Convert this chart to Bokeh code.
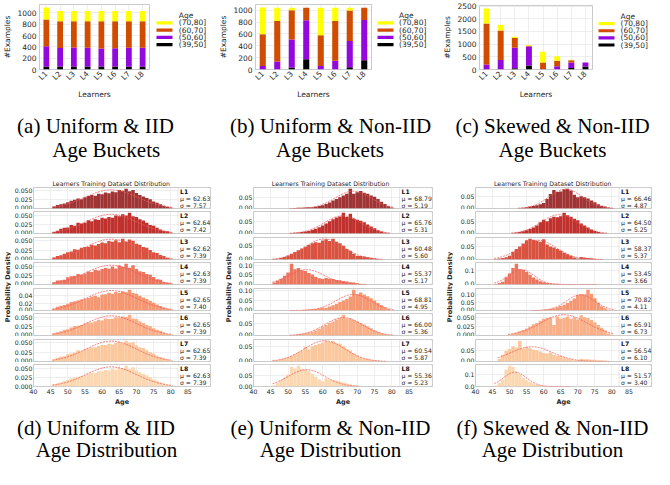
import numpy as np
from bokeh.plotting import figure
from bokeh.models import (FactorRange, Range1d, Label, BoxAnnotation,
                          FixedTicker, ColumnDataSource, PrintfTickFormatter)
from bokeh.layouts import row, column
from bokeh.embed import file_html
from bokeh.resources import INLINE
from bokeh.core.properties import value

# ---------------- data: bar charts (#examples per age bucket) ----------------
learners = ["L1", "L2", "L3", "L4", "L5", "L6", "L7", "L8"]
age_buckets = ["(39,50]", "(50,60]", "(60,70]", "(70,80]"]
bucket_colors = ["#000000", "#9309dd", "#d04c00", "#ffff00"]

uni_iid_39_50 = [55, 55, 55, 55, 55, 55, 50, 55]
uni_iid_50_60 = [356, 325, 335, 330, 315, 320, 335, 330]
uni_iid_60_70 = [474, 474, 464, 469, 484, 479, 469, 469]
uni_iid_70_80 = [209, 182, 182, 182, 182, 182, 182, 182]

uni_nid_39_50 = [0, 0, 35, 175, 0, 0, 40, 155]
uni_nid_50_60 = [60, 136, 470, 658, 60, 146, 440, 680]
uni_nid_60_70 = [536, 682, 495, 212, 520, 672, 515, 210]
uni_nid_70_80 = [450, 227, 45, 0, 465, 227, 50, 0]

skw_nid_39_50 = [0, 0, 45, 160, 0, 0, 55, 115]
skw_nid_50_60 = [200, 370, 815, 745, 8, 128, 225, 165]
skw_nid_60_70 = [1610, 1165, 385, 35, 272, 220, 80, 0]
skw_nid_70_80 = [590, 230, 45, 25, 420, 175, 25, 0]

bar_yticks_uni = [0, 200, 400, 600, 800, 1000]
bar_yticks_skw = [0, 500, 1000, 1500, 2000, 2500]

# ---------------- data: age histograms (density per 1-year bin) ----------------
ages = [46, 47, 48, 49, 50, 51, 52, 53, 54, 55, 56, 57, 58, 59, 60, 61, 62, 63,
        64, 65, 66, 67, 68, 69, 70, 71, 72, 73, 74, 75, 76, 77, 78, 79, 80]
hist_xticks = [40, 45, 50, 55, 60, 65, 70, 75, 80, 85]

iid_l1 = [.006, .010, .012, .014, .018, .022, .025, .028, .026, .032, .035, .038, .036, .042, .040, .045, .043, .048, .046, .052, .050, .056, .049, .052, .044, .038, .034, .030, .026, .020, .016, .012, .008, .005, .003]
iid_l2 = [.004, .008, .013, .016, .017, .024, .022, .030, .028, .030, .037, .034, .040, .038, .044, .042, .046, .044, .050, .048, .054, .050, .058, .048, .046, .040, .036, .030, .024, .022, .016, .011, .008, .006, .003]
iid_l3 = [.005, .009, .011, .015, .019, .021, .027, .026, .031, .033, .034, .039, .037, .041, .045, .043, .049, .047, .051, .046, .055, .048, .053, .050, .042, .039, .033, .031, .025, .019, .017, .012, .009, .004, .002]
iid_l4 = [.006, .011, .012, .013, .020, .023, .024, .029, .027, .031, .036, .035, .041, .039, .043, .046, .044, .050, .045, .053, .049, .058, .047, .054, .043, .037, .035, .029, .027, .021, .015, .013, .007, .005, .003]
iid_l5 = [.005, .010, .013, .015, .018, .023, .025, .027, .030, .032, .034, .038, .040, .036, .043, .044, .048, .045, .050, .047, .052, .049, .056, .047, .045, .040, .035, .031, .026, .021, .016, .012, .008, .005, .003]
iid_l6 = [.006, .009, .012, .016, .017, .022, .026, .027, .029, .033, .036, .036, .039, .043, .041, .047, .045, .046, .050, .049, .052, .051, .057, .047, .045, .039, .034, .029, .026, .020, .016, .013, .008, .004, .003]
iid_l7 = [.005, .010, .013, .014, .019, .021, .024, .030, .027, .033, .035, .037, .038, .041, .044, .044, .047, .045, .049, .052, .048, .055, .050, .051, .043, .038, .036, .030, .025, .021, .015, .012, .009, .005, .002]
iid_l8 = [.006, .009, .012, .015, .018, .023, .025, .027, .029, .031, .036, .038, .037, .042, .042, .045, .044, .049, .046, .051, .050, .057, .048, .053, .044, .039, .034, .031, .026, .019, .016, .012, .008, .005, .003]

nid_l1 = [0, 0, 0, 0, 0, .001, .002, .003, .003, .004, .005, .006, .008, .011, .014, .020, .027, .035, .042, .050, .058, .066, .088, .066, .072, .078, .070, .066, .058, .052, .042, .030, .020, .010, .004]
nid_l2 = [0, 0, 0, 0, 0, .002, .003, .004, .006, .008, .011, .016, .020, .026, .034, .042, .052, .060, .068, .072, .088, .070, .084, .064, .058, .054, .048, .038, .030, .022, .014, .008, .004, .002, 0]
nid_l3 = [.002, .003, .005, .009, .014, .020, .026, .032, .038, .044, .050, .056, .060, .058, .066, .070, .064, .072, .062, .056, .048, .036, .030, .020, .012, .012, .010, .008, .006, .004, .002, .001, 0, 0, 0]
nid_l4 = [.010, .020, .030, .045, .062, .108, .080, .086, .074, .070, .060, .052, .040, .032, .028, .034, .030, .028, .024, .022, .018, .016, .012, .010, .006, .003, .002, 0, 0, 0, 0, 0, 0, 0, 0]
nid_l5 = [0, 0, 0, 0, 0, .001, .002, .003, .003, .004, .005, .006, .008, .011, .014, .014, .020, .026, .034, .042, .050, .058, .070, .104, .082, .090, .080, .072, .062, .050, .038, .026, .016, .008, .003]
nid_l6 = [0, 0, 0, 0, 0, .002, .003, .005, .007, .009, .012, .016, .021, .028, .037, .044, .052, .058, .066, .072, .086, .070, .070, .064, .058, .052, .046, .038, .030, .022, .015, .009, .005, .002, .001]
nid_l7 = [.003, .004, .007, .010, .014, .018, .024, .030, .036, .048, .040, .050, .054, .058, .062, .068, .064, .066, .060, .058, .050, .042, .036, .026, .020, .014, .010, .008, .006, .004, .003, .002, .001, 0, 0]
nid_l8 = [.006, .016, .030, .042, .054, .090, .082, .094, .080, .076, .070, .058, .044, .032, .024, .036, .032, .030, .026, .024, .018, .014, .010, .006, .004, 0, 0, 0, 0, 0, 0, 0, 0, 0, 0]

skw_l1 = [0, 0, 0, 0, 0, 0, 0, .001, .003, .005, .008, .011, .014, .018, .023, .040, .062, .078, .070, .072, .082, .084, .076, .058, .048, .052, .048, .042, .034, .026, .018, .012, .008, .004, .002]
skw_l2 = [0, 0, 0, 0, 0, .002, .004, .006, .009, .013, .018, .024, .032, .046, .056, .050, .062, .068, .066, .070, .084, .074, .068, .060, .054, .040, .032, .024, .016, .010, .006, .003, .002, 0, 0]
skw_l3 = [.002, .004, .006, .009, .014, .030, .040, .050, .062, .074, .080, .076, .072, .068, .078, .058, .050, .046, .040, .034, .026, .020, .014, .008, .004, .010, .008, .006, .005, .003, .002, .001, 0, 0, 0]
skw_l4 = [.004, .010, .020, .052, .080, .120, .150, .110, .104, .090, .070, .050, .036, .024, .016, .010, .008, .006, .005, .003, .002, .001, .001, 0, 0, .002, .002, .002, .002, .002, 0, 0, 0, 0, 0]
skw_l5 = [0, 0, 0, 0, 0, 0, 0, 0, 0, 0, 0, .001, .002, .003, .004, .006, .010, .014, .020, .028, .036, .046, .060, .074, .096, .100, .098, .128, .104, .076, .048, .026, .014, .004, .002]
skw_l6 = [0, 0, 0, 0, .003, .005, .008, .012, .016, .020, .026, .032, .036, .042, .048, .050, .052, .030, .054, .048, .050, .054, .048, .052, .046, .058, .052, .050, .044, .038, .030, .022, .014, .006, .003]
skw_l7 = [0, .012, .030, .046, .055, .068, .062, .092, .058, .064, .060, .052, .050, .044, .038, .036, .040, .030, .026, .024, .018, .012, .010, .006, .006, .012, .010, .010, .008, .008, .006, .005, .004, .002, 0]
skw_l8 = [.010, .030, .060, .140, .170, .160, .120, .100, .070, .050, .036, .024, .014, .010, .006, .004, .003, .002, .001, .001, .001, .001, 0, 0, 0, 0, 0, 0, 0, 0, 0, 0, 0, 0, 0]

iid_mu = [62.63, 62.64, 62.62, 62.63, 62.65, 62.65, 62.65, 62.63]
iid_sd = [7.57, 7.42, 7.39, 7.39, 7.40, 7.39, 7.39, 7.39]
nid_mu = [68.79, 65.76, 60.48, 55.37, 68.81, 66.00, 60.54, 55.36]
nid_sd = [5.19, 5.31, 5.60, 5.17, 4.95, 5.36, 5.87, 5.23]
skw_mu = [66.46, 64.50, 58.37, 53.45, 70.82, 65.91, 56.54, 51.57]
skw_sd = [4.87, 5.25, 5.37, 3.66, 4.11, 6.73, 6.10, 3.40]

iid_yticks = [[0, .025, .05], [0, .025, .05], [0, .025, .05], [0, .025, .05],
              [0, .02, .04], [0, .025, .05], [0, .025, .05], [0, .025, .05]]
iid_ydec = [3, 3, 3, 3, 2, 3, 3, 3]
nid_yticks = [[0, .05], [0, .05], [0, .05], [0, .05, .10],
              [0, .05, .10], [0, .05], [0, .05], [0, .05, .10]]
nid_ydec = [2, 2, 2, 2, 2, 2, 2, 2]
skw_yticks = [[0, .05], [0, .05], [0, .05], [0, .1],
              [0, .05, .10], [0, .025, .05], [0, .05, .10], [0, .1]]
skw_ydec = [2, 2, 2, 1, 2, 3, 2, 1]

learner_colors = ["#a03434", "#c0312d", "#d9513f", "#ec755e", "#f59872",
                  "#f9b088", "#fbc89e", "#fcd8b2"]

SANS = "DejaVu Sans"
SERIF = "Liberation Serif"
TXT = "#262626"
GRID = "#e6e6e6"
EDGE = "#bdbdbd"
ROOT_W = 652
COL_H = 231


def style_axis(ax, size):
    ax.axis_line_color = None
    ax.major_tick_line_color = None
    ax.minor_tick_line_color = None
    ax.major_tick_out = 0
    ax.major_tick_in = 0
    ax.major_label_text_font = SANS
    ax.major_label_text_font_size = size
    ax.major_label_text_color = TXT
    ax.axis_label_text_font = SANS
    ax.axis_label_text_color = TXT


def blank_fig(w, h):
    p = figure(width=w, height=h, x_range=Range1d(0, w), y_range=Range1d(0, h),
               min_border_left=0, min_border_right=0, min_border_top=0,
               min_border_bottom=0, title=None,
               x_axis_location=None, y_axis_location=None,
               output_backend="svg", toolbar_location=None)
    p.grid.visible = False
    p.outline_line_color = None
    return p


def bar_panel(cols, yticks, bl, fw, bt, fh, bb, legend_w, patch_cx, label_x):
    total = max(sum(c[i] for c in cols) for i in range(len(learners)))
    src = ColumnDataSource(dict(learner=learners, b39=cols[0], b50=cols[1],
                                b60=cols[2], b70=cols[3]))
    H = bt + fh + bb
    p = figure(x_range=FactorRange(*learners, range_padding=0),
               y_range=Range1d(0, total * 1.05),
               width=bl + fw + 1, height=H,
               min_border_left=bl, min_border_right=1,
               min_border_top=bt, min_border_bottom=bb, title=None,
               output_backend="svg", toolbar_location=None)
    p.vbar_stack(["b39", "b50", "b60", "b70"], x="learner", width=0.42,
                 color=bucket_colors, line_color=None, source=src)
    p.yaxis.ticker = FixedTicker(ticks=yticks)
    p.yaxis.axis_label = "#Examples"
    p.xaxis.axis_label = "Learners"
    p.xaxis.major_label_orientation = 0.7854
    for ax in p.axis:
        style_axis(ax, "7.5px")
        ax.axis_label_text_font_size = "7.5px"
        ax.axis_label_text_font_style = "normal"
        ax.major_label_standoff = 3
        ax.axis_label_standoff = 2
    p.grid.grid_line_color = GRID
    p.grid.grid_line_width = 0.7
    p.outline_line_color = EDGE
    p.outline_line_width = 0.8

    # legend drawn in its own small canvas to the right of the frame
    lg = blank_fig(legend_w, H)
    names = [age_buckets[i] for i in (3, 2, 1, 0)]
    cols_r = [bucket_colors[i] for i in (3, 2, 1, 0)]
    ys = [H - (28.8 + 11.4 * k) for k in range(4)]
    lg.rect(x=[patch_cx] * 4, y=ys, width=16, height=5, fill_color=cols_r, line_color=None)
    lg.text(x=[label_x] * 5, y=[H - 17.5] + ys, text=["Age"] + names,
            text_font=value(SANS), text_font_size=value("7.5px"),
            text_color=TXT, text_baseline="middle", text_align="left")
    return row(p, lg, spacing=0)


def hist_fig(dens, color, mu, sd, yticks, ydec, idx, fw, bl, br, ppy):
    tb = 9 if idx == 0 else (2 if idx % 2 == 1 else 3)
    bb = 22 if idx == 7 else 1
    peak = 1.0 / (sd * np.sqrt(2 * np.pi))
    ymax = max(max(dens), peak) * 1.06
    x_end = 40 + fw / ppy
    p = figure(x_range=Range1d(40, x_end), y_range=Range1d(0, ymax),
               width=bl + fw + br, height=tb + 22 + bb,
               min_border_left=bl, min_border_right=br,
               min_border_top=tb, min_border_bottom=bb,
               x_axis_location="below" if idx == 7 else None,
               output_backend="svg", toolbar_location=None)
    a = np.array(ages, dtype=float)
    p.quad(left=a - 0.5, right=a + 0.5, bottom=0, top=dens,
           fill_color=color, line_color=None)
    nz = [x for x, d in zip(ages, dens) if d > 0]
    xs = np.linspace(min(nz) - 0.5, max(nz) + 0.5, 120)
    ys = np.exp(-0.5 * ((xs - mu) / sd) ** 2) / (sd * np.sqrt(2 * np.pi))
    p.line(xs, ys, line_color="#f25a5a", line_width=0.8, line_dash="2 1")
    p.xgrid.ticker = FixedTicker(ticks=hist_xticks)
    p.yaxis.ticker = FixedTicker(ticks=yticks)
    p.yaxis.formatter = PrintfTickFormatter(format="%." + str(ydec) + "f")
    for ax in p.axis:
        style_axis(ax, "6.2px")
        ax.major_label_standoff = 1
    p.grid.grid_line_color = GRID
    p.grid.grid_line_width = 0.7
    p.outline_line_color = EDGE
    p.outline_line_width = 0.8
    if idx == 7:
        p.xaxis.ticker = FixedTicker(ticks=hist_xticks)
        p.xaxis.major_label_standoff = 2
        p.xaxis.axis_label = "Age"
        p.xaxis.axis_label_text_font_size = "6.5px"
        p.xaxis.axis_label_text_font_style = "bold"
        p.xaxis.axis_label_standoff = 1
    if idx == 0:
        p.title.text = "Learners Training Dataset Distribution"
        p.title.align = "left"
        p.title.offset = 22.5 * ppy - 59.5
        p.title.standoff = 1
        p.title.text_font = SANS
        p.title.text_font_size = "6.2px"
        p.title.text_font_style = "normal"
        p.title.text_color = TXT
    # statistics box at the right end of the frame
    box_left = x_end - 33.0 / ppy
    p.add_layout(BoxAnnotation(left=box_left, right=x_end, bottom=0, top=ymax,
                               fill_color="white", fill_alpha=0.92,
                               line_color="#9a9a9a", line_width=0.8,
                               border_radius=2))
    texts = [learners[idx], "μ = %.2f" % mu, "σ = %.2f" % sd]
    for k, t in enumerate(texts):
        p.add_layout(Label(x=box_left, y=ymax, x_offset=2, y_offset=-0.5 - 7 * k,
                           text=t, text_align="left", text_baseline="top",
                           text_font=SANS, text_font_size="6.1px",
                           text_font_style="bold" if k == 0 else "normal",
                           text_color="#111111" if k == 0 else TXT))
    return p


def vlabel_fig(w, cx, h=COL_H):
    p = blank_fig(w, h)
    p.add_layout(Label(x=cx, y=h - 109.5, text="Probability Density", angle=np.pi / 2,
                       text_align="center", text_baseline="middle",
                       text_font=SANS, text_font_size="6.5px",
                       text_font_style="bold", text_color=TXT))
    return p


def hist_panel(hists, colors, mus, sds, yticks, ydecs, lw, lcx, bl, fw, br, ppy):
    figs = [hist_fig(hists[i], colors[i], mus[i], sds[i], yticks[i], ydecs[i], i,
                     fw, bl, br, ppy) for i in range(8)]
    return row(vlabel_fig(lw, lcx), column(*figs, spacing=0), spacing=0)


def caption_fig(h, lines):
    p = blank_fig(ROOT_W, h)
    for txt, cx, by in lines:
        p.add_layout(Label(x=cx, y=h - by, text=txt, text_align="center",
                           text_baseline="alphabetic", text_font=SERIF,
                           text_font_size="21px", text_color="black"))
    return p


# top row: panels 215 + 225 + 212 = 652 px
fa = bar_panel([uni_iid_39_50, uni_iid_50_60, uni_iid_60_70, uni_iid_70_80],
               bar_yticks_uni, 35, 114, 4, 74, 24, 65, 14, 28.3)
fb = bar_panel([uni_nid_39_50, uni_nid_50_60, uni_nid_60_70, uni_nid_70_80],
               bar_yticks_uni, 40, 116, 4, 74, 24, 68, 13, 26.5)
fc = bar_panel([skw_nid_39_50, skw_nid_50_60, skw_nid_60_70, skw_nid_70_80],
               bar_yticks_skw, 37, 115, 5, 73, 24, 59, 13, 27)

cap_top = caption_fig(75, [("(a) Uniform & IID", 95, 23), ("Age Buckets", 105.7, 47),
                           ("(b) Uniform & Non-IID", 330, 23), ("Age Buckets", 329.5, 47),
                           ("(c) Skewed & Non-IID", 552, 23), ("Age Buckets", 552, 47)])

iid_h = [iid_l1, iid_l2, iid_l3, iid_l4, iid_l5, iid_l6, iid_l7, iid_l8]
nid_h = [nid_l1, nid_l2, nid_l3, nid_l4, nid_l5, nid_l6, nid_l7, nid_l8]
skw_h = [skw_l1, skw_l2, skw_l3, skw_l4, skw_l5, skw_l6, skw_l7, skw_l8]

pd_ = hist_panel(iid_h, learner_colors, iid_mu, iid_sd, iid_yticks, iid_ydec, 11, 7, 19, 180, 5, 3.489)
pe_ = hist_panel(nid_h, learner_colors, nid_mu, nid_sd, nid_yticks, nid_ydec, 17, 13.3, 21, 179, 8, 3.458)
pf_ = hist_panel(skw_h, learner_colors, skw_mu, skw_sd, skw_yticks, skw_ydec, 13, 9.5, 19, 179, 1, 3.467)

cap_bot = caption_fig(57, [("(d) Uniform & IID", 95.5, 19), ("Age Distribution", 106, 41.5),
                           ("(e) Uniform & Non-IID", 330, 19), ("Age Distribution", 330, 41.5),
                           ("(f) Skewed & Non-IID", 552, 19), ("Age Distribution", 552, 41.5)])

root = column(row(fa, fb, fc, spacing=0), cap_top, row(pd_, pe_, pf_, spacing=0), cap_bot,
              spacing=0)

open("out.html", "w").write(file_html(root, INLINE))
